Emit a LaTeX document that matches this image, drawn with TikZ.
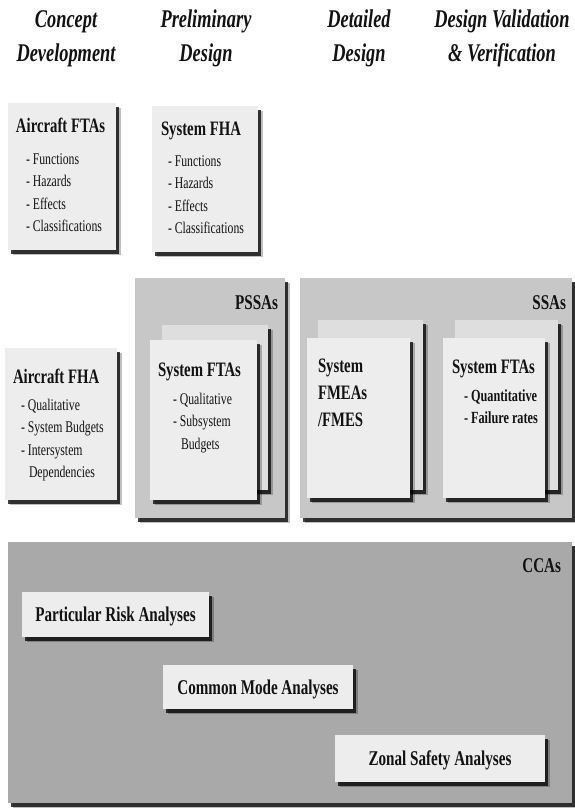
\documentclass[tikz,border=0pt]{standalone}
\usepackage{fontspec}
\setmainfont{Liberation Serif}[FakeStretch=0.72]
\usetikzlibrary{shadows}
\definecolor{cardfill}{RGB}{237,237,237}
\definecolor{backfill}{RGB}{222,222,222}
\definecolor{panelfill}{RGB}{199,199,199}
\definecolor{ccafill}{RGB}{169,169,169}
\definecolor{inkc}{RGB}{18,18,18}
\newcommand\hdrfont{\fontsize{25.5}{34}\selectfont\bfseries\itshape}
\newcommand\ttlfont{\fontsize{20.5}{24}\selectfont\bfseries}
\newcommand\itmfont{\fontsize{16.3}{22.5}\selectfont}
\newcommand\bitmfont{\fontsize{17}{22}\selectfont\bfseries}
\newcommand\lblfont{\fontsize{21}{24}\selectfont\bfseries}
\newcommand\ccafont{\fontsize{21}{24}\selectfont\bfseries}
\begin{document}
\begin{tikzpicture}[x=1pt,y=-1pt,
  every node/.style={inner sep=0pt,outer sep=0pt,text=inkc},
  shade2/.style={drop shadow={shadow xshift=5pt,shadow yshift=-5pt,fill=black,opacity=0.25},
                 drop shadow={shadow xshift=3pt,shadow yshift=-3.5pt,fill=black,opacity=0.75}},
  card/.style={shade2,fill=cardfill,anchor=north west},
  backcard/.style={shade2,fill=backfill,anchor=north west},
  panel/.style={shade2,fill=panelfill,anchor=north west},
  ccapanel/.style={shade2,fill=ccafill,anchor=north west},
  hdr/.style={font=\hdrfont,anchor=base},
  ttl/.style={font=\ttlfont,anchor=base west},
  lst/.style={anchor=base west},
  lbl/.style={font=\lblfont,anchor=base east},
  ccalbl/.style={font=\ccafont,anchor=base}]
\useasboundingbox[fill=white] (0,0) rectangle (574,808);

% headers
\node[hdr] (h1) at (66,28) {\begin{tabular}[t]{@{}c@{}}Concept\\Development\end{tabular}};
\node[hdr] (h2) at (206,28) {\begin{tabular}[t]{@{}c@{}}Preliminary\\Design\end{tabular}};
\node[hdr] (h3) at (359,28) {\begin{tabular}[t]{@{}c@{}}Detailed\\Design\end{tabular}};
\node[hdr] (h4) at (502,28) {\begin{tabular}[t]{@{}c@{}}Design Validation\\\& Verification\end{tabular}};

% Aircraft FTAs
\node[card,minimum width=108,minimum height=147] (aftas) at (8,103) {};
\node[ttl] (aftasT) at (16,132) {Aircraft FTAs};
\node[lst] (aftasL) at (26,164) {\itmfont\begin{tabular}[t]{@{}l@{}}- Functions\\- Hazards\\- Effects\\- Classifications\end{tabular}};

% System FHA
\node[card,minimum width=106,minimum height=146] (sfha) at (152,106) {};
\node[ttl] (sfhaT) at (161,135) {System FHA};
\node[lst] (sfhaL) at (168,166) {\itmfont\begin{tabular}[t]{@{}l@{}}- Functions\\- Hazards\\- Effects\\- Classifications\end{tabular}};

% Aircraft FHA
\node[card,minimum width=112,minimum height=152] (afha) at (5,348) {};
\node[ttl] (afhaT) at (13,383) {Aircraft FHA};
\node[lst] (afhaL) at (21,410) {\itmfont\begin{tabular}[t]{@{}l@{}}- Qualitative\\- System Budgets\\- Intersystem\\\hspace*{8pt}Dependencies\end{tabular}};

% PSSAs
\node[panel,minimum width=150,minimum height=240] (pssa) at (135,278) {};
\node[lbl] (pssaL) at (278,309) {PSSAs};
\node[backcard,minimum width=106,minimum height=165] (pback) at (162,325) {};
\node[card,minimum width=107,minimum height=160] (pfront) at (150,340) {};
\node[ttl] (pfrontT) at (158,376) {System FTAs};
\node[lst] (pfrontL) at (173,404) {\itmfont\begin{tabular}[t]{@{}l@{}}- Qualitative\\- Subsystem\\\hspace*{8pt}Budgets\end{tabular}};

% SSAs
\node[panel,minimum width=272,minimum height=240] (ssa) at (300,278) {};
\node[lbl] (ssaL) at (566,309) {SSAs};
\node[backcard,minimum width=105,minimum height=170] (fback) at (318,320) {};
\node[card,minimum width=103,minimum height=160] (ffront) at (307,338) {};
\node[lst] (ffrontT) at (318,372) {\fontsize{20.5}{27}\selectfont\bfseries\begin{tabular}[t]{@{}l@{}}System\\FMEAs\\/FMES\end{tabular}};
\node[backcard,minimum width=103,minimum height=170] (tback) at (455,320) {};
\node[card,minimum width=102,minimum height=160] (tfront) at (443,338) {};
\node[ttl] (tfrontT) at (452,373) {System FTAs};
\node[lst] (tfrontL) at (464,401) {\bitmfont\begin{tabular}[t]{@{}l@{}}- Quantitative\\- Failure rates\end{tabular}};

% CCAs
\node[ccapanel,minimum width=564,minimum height=261] (cca) at (8,542) {};
\node[lbl] (ccaL) at (561,572) {CCAs};
\node[card,minimum width=187,minimum height=45] (pra) at (22,592) {};
\node[ccalbl] (praT) at (pra.center) [yshift=-7pt] {Particular Risk Analyses};
\node[card,minimum width=190,minimum height=44] (cma) at (163,665) {};
\node[ccalbl] (cmaT) at (cma.center) [yshift=-7pt] {Common Mode Analyses};
\node[card,minimum width=210,minimum height=47] (zsa) at (335,735) {};
\node[ccalbl] (zsaT) at (zsa.center) [yshift=-7pt] {Zonal Safety Analyses};
\end{tikzpicture}
\end{document}
